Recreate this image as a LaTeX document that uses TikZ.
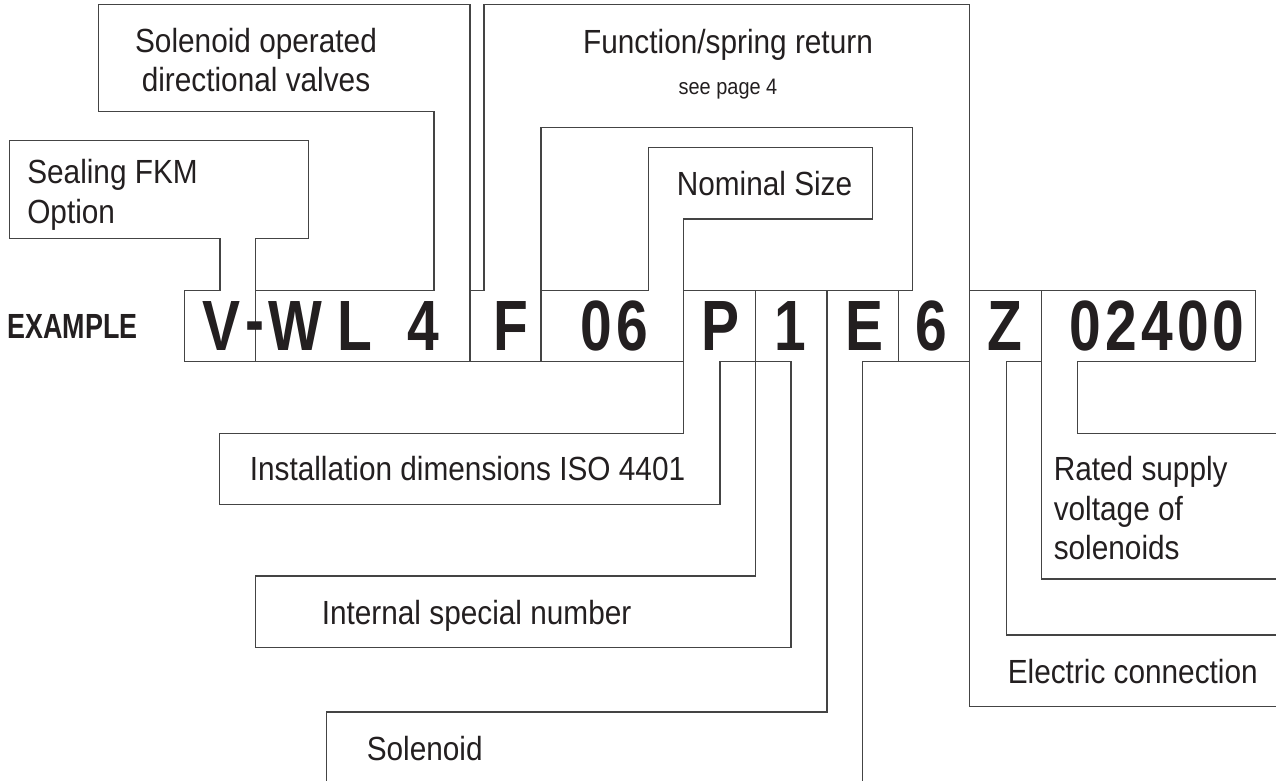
\documentclass[tikz,border=0pt]{standalone}
\usepackage{fontspec}
\setmainfont{Liberation Sans}[FakeStretch=0.89]
\newfontfamily\codefont{Liberation Sans}[FakeStretch=0.8,LetterSpace=6]
\newfontfamily\dashfont{Liberation Sans}[FakeStretch=0.8]
\newfontfamily\exfont{Liberation Sans}[FakeStretch=0.77]
\usepackage{tikz}
\definecolor{tcink}{HTML}{231F20}
\definecolor{tcline}{HTML}{444444}

\begin{document}
\begin{tikzpicture}[
    x=0.75pt,
    y=-0.75pt,
    frame/.style={draw=tcline, line width=0.9pt},
    lab/.style={anchor=base west, inner sep=0pt, text=tcink, align=left, font=\fontsize{25.1}{29.6}\selectfont},
    labmid/.style={lab, anchor=base, align=center},
    codechar/.style={anchor=base, inner sep=0pt, text=tcink, font=\codefont\bfseries\fontsize{53.4}{60}\selectfont}
  ]
    \useasboundingbox (0,0) rectangle (1276,781);

    \node[anchor=base west, inner sep=0pt, text=tcink, font=\exfont\bfseries\fontsize{26.2}{30}\selectfont] (example) at (7.3,338.3) {EXAMPLE};

    \draw[frame] (220,290.7) -- (184.3,290.7) -- (184.3,361.3) -- (683.7,361.3);
    \draw[frame] (255.3,290.7) -- (434,290.7);
    \draw[frame] (470,290.7) -- (484,290.7);
    \draw[frame] (541,290.7) -- (648.3,290.7);
    \draw[frame] (683.7,290.7) -- (912.7,290.7);
    \draw[frame] (969.3,290.7) -- (1255.7,290.7) -- (1255.7,361.3) -- (1077.3,361.3);
    \draw[frame] (720,361.3) -- (791,361.3);
    \draw[frame] (862.7,361.3) -- (969.3,361.3);
    \draw[frame] (1006.3,361.3) -- (1041.3,361.3);
    \draw[frame] (898.3,290.7) -- (898.3,361.3);

    \draw[frame] (220,290.7) -- (220,238.7) -- (9.7,238.7) -- (9.7,140.7) -- (308.3,140.7) -- (308.3,238.7) -- (255.3,238.7) -- (255.3,361.3);
    \draw[frame] (434,290.7) -- (434,111.7) -- (98.3,111.7) -- (98.3,4.7) -- (470,4.7) -- (470,361.3);
    \draw[frame] (484,290.7) -- (484,4.7) -- (969.3,4.7) -- (969.3,706.7) -- (1276,706.7);
    \draw[frame] (541,361.3) -- (541,127.7) -- (912.7,127.7) -- (912.7,290.7);
    \draw[frame] (648.3,290.7) -- (648.3,147.7) -- (872.7,147.7) -- (872.7,219) -- (683.7,219) -- (683.7,433.3) -- (219.3,433.3) -- (219.3,504.7) -- (720,504.7) -- (720,361.3);
    \draw[frame] (791,361.3) -- (791,647.3) -- (255.3,647.3) -- (255.3,576) -- (755.3,576) -- (755.3,290.7);
    \draw[frame] (827,290.7) -- (827,712) -- (326.7,712) -- (326.7,781);
    \draw[frame] (862.7,361.3) -- (862.7,781);
    \draw[frame] (1006.3,361.3) -- (1006.3,635) -- (1276,635);
    \draw[frame] (1041.3,290.7) -- (1041.3,579) -- (1276,579);
    \draw[frame] (1077.3,361.3) -- (1077.3,433.3) -- (1276,433.3);

    \foreach \cx/\ch [count=\i] in {221/V, 295.5/W, 355/L, 423.7/4, 511/F, 614.5/06, 720/P, 790.7/1, 864.5/E, 931/6, 1004.7/Z, 1157/02400}
      \node[codechar] (code\i) at (\cx,350.7) {\ch};
    \node[codechar, font=\dashfont\bfseries\fontsize{53.4}{60}\selectfont, yshift=4.5pt] (dash) at (255.3,350.7) {-};

    \node[lab] (sealing) at (27,223) {Sealing FKM\\Option};
    \node[labmid] (solop) at (256,92) {Solenoid operated\\directional valves};
    \node[labmid] (function) at (728,53.3) {Function/spring return};
    \node[labmid, font=\fontsize{16.8}{20}\selectfont] (seepage) at (728,94.3) {see page 4};
    \node[labmid] (nominal) at (764.5,195) {Nominal Size};
    \node[lab] (install) at (249.5,480.7) {Installation dimensions ISO 4401};
    \node[lab] (internal) at (321.5,624) {Internal special number};
    \node[lab] (solenoid) at (366.5,760) {Solenoid};
    \node[lab] (rated) at (1053.5,559.7) {Rated supply\\voltage of\\solenoids};
    \node[lab] (electric) at (1007.5,683.3) {Electric connection};
  \end{tikzpicture}
\end{document}
